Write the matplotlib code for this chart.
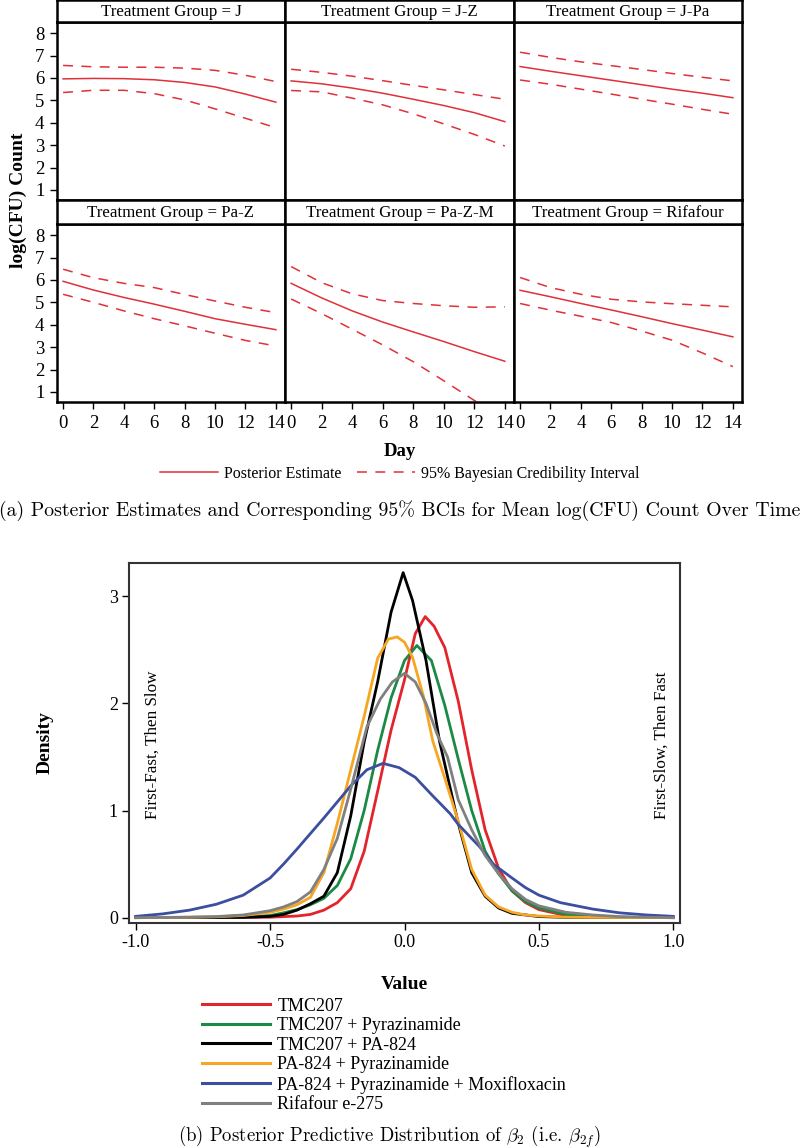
import matplotlib
matplotlib.use("Agg")
import matplotlib.pyplot as plt
from matplotlib.lines import Line2D

plt.rcParams['font.family'] = ['Liberation Serif', 'DejaVu Serif']
plt.rcParams['mathtext.fontset'] = 'cm'

# ---- panel (a): posterior mean log(CFU) by day ----
days = [0, 2, 4, 6, 8, 10, 12, 14]
groups = ["J", "J-Z", "J-Pa", "Pa-Z", "Pa-Z-M", "Rifafour"]

est_J = [5.96, 5.98, 5.97, 5.92, 5.80, 5.60, 5.28, 4.92]
upr_J = [6.56, 6.50, 6.48, 6.48, 6.44, 6.34, 6.12, 5.84]
lwr_J = [5.35, 5.45, 5.45, 5.30, 5.02, 4.62, 4.20, 3.78]

est_JZ = [5.87, 5.74, 5.55, 5.32, 5.05, 4.77, 4.45, 4.05]
upr_JZ = [6.39, 6.25, 6.08, 5.88, 5.67, 5.47, 5.26, 5.05]
lwr_JZ = [5.44, 5.38, 5.10, 4.80, 4.40, 3.95, 3.48, 2.96]

est_JPa = [6.51, 6.30, 6.10, 5.90, 5.70, 5.50, 5.32, 5.12]
upr_JPa = [7.15, 6.92, 6.72, 6.55, 6.38, 6.20, 6.03, 5.87]
lwr_JPa = [5.91, 5.72, 5.50, 5.28, 5.05, 4.83, 4.60, 4.38]

est_PaZ = [5.94, 5.55, 5.22, 4.92, 4.60, 4.27, 4.02, 3.78]
upr_PaZ = [6.48, 6.10, 5.85, 5.66, 5.35, 5.06, 4.78, 4.54]
lwr_PaZ = [5.36, 5.00, 4.62, 4.27, 3.95, 3.62, 3.30, 3.05]

est_PaZM = [5.85, 5.20, 4.62, 4.12, 3.68, 3.25, 2.80, 2.37]
upr_PaZM = [6.60, 5.88, 5.38, 5.08, 4.95, 4.85, 4.78, 4.80]
lwr_PaZM = [5.15, 4.50, 3.80, 3.10, 2.35, 1.50, 0.62, -0.20]

est_Rif = [5.54, 5.25, 4.95, 4.66, 4.36, 4.05, 3.76, 3.46]
upr_Rif = [6.11, 5.66, 5.36, 5.14, 5.02, 4.94, 4.87, 4.80]
lwr_Rif = [4.95, 4.65, 4.38, 4.10, 3.72, 3.31, 2.74, 2.13]

estimates = [est_J, est_JZ, est_JPa, est_PaZ, est_PaZM, est_Rif]
uppers = [upr_J, upr_JZ, upr_JPa, upr_PaZ, upr_PaZM, upr_Rif]
lowers = [lwr_J, lwr_JZ, lwr_JPa, lwr_PaZ, lwr_PaZM, lwr_Rif]

# ---- panel (b): posterior predictive densities of beta_2 ----
x_tmc = [-1.0, -0.6, -0.5, -0.4, -0.35, -0.3, -0.25, -0.2, -0.15, -0.1, -0.05, 0.0,
         0.04, 0.077, 0.11, 0.15, 0.2, 0.25, 0.3, 0.35, 0.4, 0.45, 0.5, 0.6, 0.7, 1.0]
d_tmc = [0, 0.001, 0.004, 0.015, 0.03, 0.07, 0.14, 0.27, 0.62, 1.18, 1.75, 2.22,
         2.65, 2.81, 2.72, 2.52, 2.02, 1.38, 0.82, 0.46, 0.25, 0.14, 0.075, 0.02, 0.005, 0]

x_tmc_pzA = [-1.0, -0.6, -0.5, -0.45, -0.4, -0.35, -0.3, -0.25, -0.2, -0.15, -0.1, -0.05,
             0.0, 0.046, 0.1, 0.15, 0.2, 0.25, 0.3, 0.35, 0.4, 0.45, 0.5, 0.6, 0.7, 0.8, 1.0]
d_tmc_pzA = [0, 0.005, 0.02, 0.045, 0.075, 0.12, 0.18, 0.3, 0.55, 1.0, 1.56, 2.05,
             2.4, 2.54, 2.4, 1.98, 1.48, 1.0, 0.62, 0.41, 0.25, 0.15, 0.09, 0.03, 0.01, 0.003, 0]

x_tmc_pa = [-1.0, -0.6, -0.5, -0.45, -0.4, -0.35, -0.3, -0.25, -0.2, -0.15, -0.1, -0.05,
            -0.005, 0.03, 0.08, 0.13, 0.2, 0.25, 0.3, 0.35, 0.4, 0.5, 0.6, 1.0]
d_tmc_pa = [0, 0.003, 0.012, 0.03, 0.07, 0.13, 0.2, 0.42, 0.95, 1.64, 2.2, 2.85,
            3.22, 2.96, 2.4, 1.65, 0.88, 0.42, 0.2, 0.09, 0.04, 0.01, 0.003, 0]

x_pa_pzA = [-1.0, -0.8, -0.7, -0.6, -0.5, -0.45, -0.4, -0.35, -0.3, -0.25, -0.2, -0.15,
            -0.1, -0.06, -0.027, 0.0, 0.03, 0.07, 0.105, 0.15, 0.2, 0.25, 0.3, 0.35,
            0.4, 0.45, 0.5, 0.6, 0.7, 1.0]
d_pa_pzA = [0, 0.003, 0.008, 0.02, 0.05, 0.08, 0.12, 0.19, 0.42, 0.88, 1.38, 1.88,
            2.42, 2.6, 2.62, 2.57, 2.43, 2.07, 1.65, 1.3, 0.9, 0.45, 0.21, 0.1,
            0.05, 0.025, 0.015, 0.005, 0.002, 0]

x_pa_pzA_mox = [-1.0, -0.9, -0.8, -0.7, -0.6, -0.5, -0.45, -0.4, -0.3, -0.2, -0.14, -0.08,
                -0.02, 0.04, 0.1, 0.17, 0.2, 0.28, 0.33, 0.4, 0.45, 0.5, 0.58, 0.7,
                0.8, 0.9, 1.0]
d_pa_pzA_mox = [0.012, 0.035, 0.07, 0.125, 0.21, 0.37, 0.5, 0.64, 0.93, 1.23, 1.38, 1.44,
                1.4, 1.31, 1.15, 0.97, 0.87, 0.66, 0.5, 0.37, 0.28, 0.21, 0.14, 0.08,
                0.045, 0.025, 0.012]

x_rif = [-1.0, -0.9, -0.8, -0.7, -0.6, -0.5, -0.45, -0.4, -0.35, -0.3, -0.25, -0.2,
         -0.14, -0.09, -0.045, 0.0, 0.04, 0.08, 0.12, 0.16, 0.2, 0.25, 0.3, 0.35,
         0.4, 0.45, 0.5, 0.6, 0.7, 0.8, 0.9, 1.0]
d_rif = [0, 0.002, 0.005, 0.01, 0.025, 0.065, 0.1, 0.15, 0.24, 0.45, 0.74, 1.2,
         1.78, 2.04, 2.2, 2.28, 2.2, 2.0, 1.72, 1.5, 1.1, 0.82, 0.58, 0.41,
         0.27, 0.17, 0.11, 0.05, 0.025, 0.01, 0.004, 0]

regimens = ["TMC207", "TMC207 + Pyrazinamide", "TMC207 + PA-824", "PA-824 + Pyrazinamide",
            "PA-824 + Pyrazinamide + Moxifloxacin", "Rifafour e-275"]
reg_x = [x_tmc, x_tmc_pzA, x_tmc_pa, x_pa_pzA, x_pa_pzA_mox, x_rif]
reg_d = [d_tmc, d_tmc_pzA, d_tmc_pa, d_pa_pzA, d_pa_pzA_mox, d_rif]
reg_colors = ["#e3242b", "#1a8a45", "#000000", "#f6a623", "#3b4ea0", "#808080"]

RED = "#e0303a"
W, H = 800, 1148


def px(x, y, w, h):
    return [x / W, 1 - (y + h) / H, w / W, h / H]


fig = plt.figure(figsize=(W / 100, H / 100), dpi=100)

col_left = [57, 285, 514]
col_w = [228, 229, 228]
row_top = [22, 224]
strip_h = [22, 24]
plot_h = 178

for i, g in enumerate(groups):
    r, c = divmod(i, 3)
    ax = fig.add_axes(px(col_left[c], row_top[r], col_w[c], plot_h))
    ax.plot(days, estimates[i], color=RED, lw=1.1)
    ax.plot(days, uppers[i], color=RED, lw=1.1, ls=(0, (6.5, 5.5)))
    ax.plot(days, lowers[i], color=RED, lw=1.1, ls=(0, (6.5, 5.5)))
    ax.set_xlim(-0.4, 14.6)
    ax.set_ylim(0.55, 8.5)
    for s in ax.spines.values():
        s.set_linewidth(1.8)
    ax.tick_params(direction="out", length=5, width=1, labelsize=13.5, pad=4)
    ax.set_xticks(range(0, 15, 2))
    ax.set_yticks(range(1, 9))
    if r == 0:
        ax.tick_params(axis="x", bottom=False, labelbottom=False)
    if c != 0:
        ax.tick_params(axis="y", left=False, labelleft=False)

    sax = fig.add_axes(px(col_left[c], row_top[r] - strip_h[r], col_w[c], strip_h[r]))
    sax.set_xticks([])
    sax.set_yticks([])
    for s in sax.spines.values():
        s.set_linewidth(1.8)
    sax.text(0.5, 0.45, f"Treatment Group = {g}", ha="center", va="center",
             fontsize=12.2, transform=sax.transAxes)

fig.text(18 / W, 1 - 200 / H, "log(CFU) Count", rotation=90, ha="center", va="center",
         fontsize=14, fontweight="bold")
fig.text(400 / W, 1 - 452 / H, "Day", ha="center", va="center", fontsize=13.5,
         fontweight="bold")

handles_a = [Line2D([], [], color=RED, lw=1.1),
             Line2D([], [], color=RED, lw=1.1, ls=(0, (6.5, 5.5)))]
fig.legend(handles_a, ["Posterior Estimate", "95% Bayesian Credibility Interval"],
           loc="center", bbox_to_anchor=(400 / W, 1 - 474 / H), ncol=2, frameon=False,
           fontsize=11.5, handlelength=3.6, handletextpad=0.4, columnspacing=1.0)

fig.text(400 / W, 1 - 511 / H,
         "(a) Posterior Estimates and Corresponding 95% BCIs for Mean log(CFU) Count Over Time",
         ha="center", va="center", fontsize=14.3, family="cmr10")

# ---- panel (b) ----
ax2 = fig.add_axes(px(129, 563, 551, 360))
for xs, ds, col in zip(reg_x, reg_d, reg_colors):
    ax2.plot(xs, ds, color=col, lw=2.0)
ax2.set_xlim(-1.025, 1.025)
ax2.set_ylim(-0.05, 3.31)
ax2.set_xticks([-1.0, -0.5, 0.0, 0.5, 1.0])
ax2.set_xticklabels(["-1.0", "-0.5", "0.0", "0.5", "1.0"])
ax2.set_yticks([0, 1, 2, 3])
ax2.tick_params(direction="out", length=5, width=1, labelsize=13, pad=3)
for s in ax2.spines.values():
    s.set_linewidth(1.5)
    s.set_color("#333333")
ax2.set_xlabel("Value", fontsize=14, fontweight="bold", labelpad=18)
ax2.set_ylabel("Density", fontsize=14, fontweight="bold", labelpad=40)
ax2.text(-0.938, 1.61, "First-Fast, Then Slow", rotation=90, ha="center", va="center",
         fontsize=12.3)
ax2.text(0.957, 1.61, "First-Slow, Then Fast", rotation=90, ha="center", va="center",
         fontsize=12.3)

handles_b = [Line2D([], [], color=c, lw=2.2) for c in reg_colors]
fig.legend(handles_b, regimens, loc="upper left", bbox_to_anchor=(189 / W, 1 - 985 / H),
           frameon=False, fontsize=13, handlelength=3.8, handletextpad=0.4,
           labelspacing=0.14, borderpad=0.2)

fig.text(389 / W, 1 - 1137 / H,
         r"(b) Posterior Predictive Distribution of $\beta_2$ (i.e. $\beta_{2f}$)",
         ha="center", va="center", fontsize=13.5, family="cmr10")

fig.savefig("out.png", dpi=100)
